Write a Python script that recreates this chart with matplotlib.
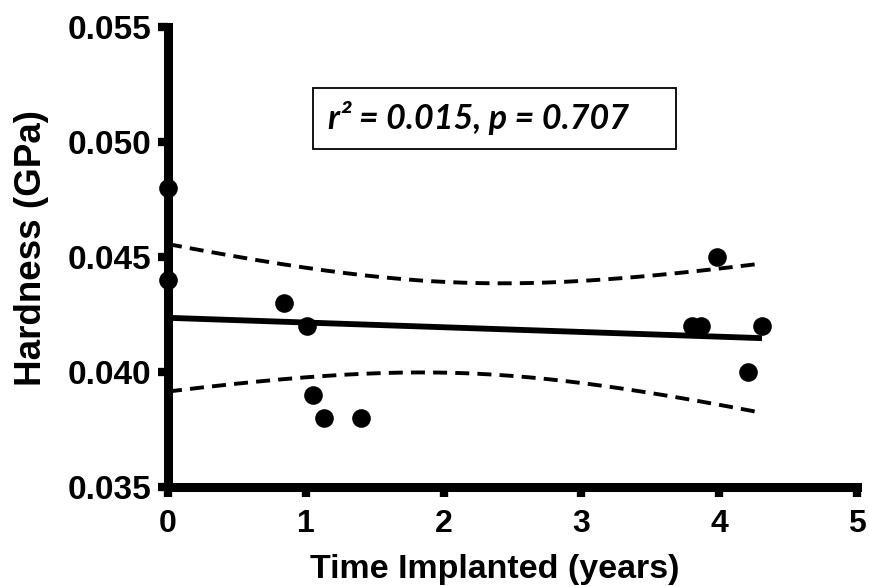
import numpy as np
import matplotlib
matplotlib.use("Agg")
import matplotlib.pyplot as plt
from matplotlib.patches import Rectangle

# Data
time_years = [0.0, 0.0, 0.84, 1.01, 1.05, 1.13, 1.40, 3.80, 3.87, 3.98, 4.21, 4.31]
hardness_gpa = [0.048, 0.044, 0.043, 0.042, 0.039, 0.038, 0.038, 0.042, 0.042, 0.045, 0.040, 0.042]
x_ticks = [0, 1, 2, 3, 4, 5]
y_ticks = [0.035, 0.040, 0.045, 0.050, 0.055]
y_tick_labels = ["0.035", "0.040", "0.045", "0.050", "0.055"]
stats_text = "r² = 0.015, p = 0.707"

x = np.array(time_years)
y = np.array(hardness_gpa)
n = len(x)
slope, intercept = np.polyfit(x, y, 1)
xs = np.linspace(x.min(), x.max(), 200)
fit = intercept + slope * xs
resid = y - (intercept + slope * x)
s = np.sqrt(np.sum(resid**2) / (n - 2))
sxx = np.sum((x - x.mean())**2)
t_crit = 2.228  # t(0.975, df=10)
se = s * np.sqrt(1.0 / n + (xs - x.mean())**2 / sxx)
upper = fit + t_crit * se
lower = fit - t_crit * se

plt.rcParams['font.family'] = ['Liberation Sans', 'DejaVu Sans']
fig = plt.figure(figsize=(8.69, 5.86), dpi=100)
ax = fig.add_axes([0.1933, 0.169, 0.793, 0.785])

ax.plot(xs, fit, color='black', lw=4.2, solid_capstyle='butt', zorder=3)
ax.plot(xs, upper, color='black', lw=2.8, dashes=(3.6, 2.1), zorder=3)
ax.plot(xs, lower, color='black', lw=2.8, dashes=(3.6, 2.1), zorder=3)
ax.scatter(x, y, s=180, color='black', zorder=5, clip_on=False, linewidths=0)

ax.set_xlim(0, 5)
ax.set_ylim(0.035, 0.055)
ax.set_xticks(x_ticks)
ax.set_yticks(y_ticks)
ax.set_yticklabels(y_tick_labels)

for side in ['top', 'right']:
    ax.spines[side].set_visible(False)
for side in ['left', 'bottom']:
    ax.spines[side].set_linewidth(6.5)
    ax.spines[side].set_capstyle('projecting')
    ax.spines[side].set_zorder(4)

ax.tick_params(axis='both', direction='out', length=7, width=6, color='black')
ax.tick_params(axis='y', labelsize=24, pad=5)
ax.tick_params(axis='x', labelsize=23, pad=9)
for lbl in ax.get_xticklabels() + ax.get_yticklabels():
    lbl.set_fontweight('bold')

ax.set_xlabel("Time Implanted (years)", fontsize=24.5, fontweight='bold')
ax.set_ylabel("Hardness (GPa)", fontsize=26.5, fontweight='bold')
ax.xaxis.set_label_coords(0.4746, -0.146, transform=ax.transAxes)
ax.yaxis.set_label_coords(-0.172, 0.52, transform=ax.transAxes)

ax.add_patch(Rectangle((0.2105, 0.735), 0.527, 0.132, transform=ax.transAxes,
                       facecolor='white', edgecolor='black', lw=1.3, zorder=6))
ax.text(0.232, 0.802, stats_text, transform=ax.transAxes, fontsize=24.5,
        fontweight='bold', fontstyle='italic', family=['Lato', 'DejaVu Sans'],
        ha='left', va='center', zorder=7)

fig.savefig("out.png", dpi=100)
